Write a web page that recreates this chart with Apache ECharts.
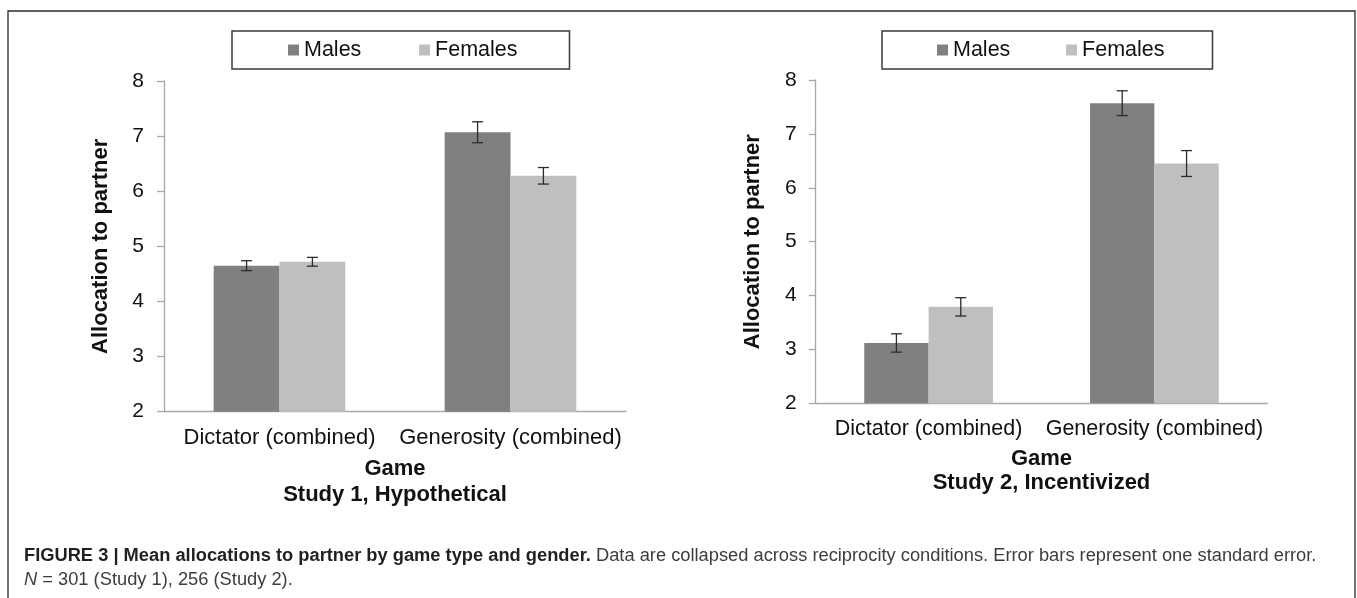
<!DOCTYPE html>
<html>
<head>
<meta charset="utf-8">
<script src="https://cdn.jsdelivr.net/npm/echarts@6/dist/echarts.min.js"></script>
<style>
html,body{margin:0;padding:0;background:#fff;}
#chart{width:1357px;height:598px;}
</style>
</head>
<body>
<div id="chart"></div>
<script>
// ---- data ----
const categories = ['Dictator (combined)', 'Generosity (combined)'];
const seriesNames = ['Males', 'Females'];
const study1Males = [4.65, 7.07];
const study1Females = [4.72, 6.28];
const study1MalesSE = [0.09, 0.19];
const study1FemalesSE = [0.08, 0.15];
const study2Males = [3.12, 7.57];
const study2Females = [3.79, 6.45];
const study2MalesSE = [0.17, 0.23];
const study2FemalesSE = [0.17, 0.24];
const yMin = 2, yMax = 8, yInterval = 1;
const xAxisTitle = 'Game';
const yAxisTitle = 'Allocation to partner';
const panelTitles = ['Study 1, Hypothetical', 'Study 2, Incentivized'];

// ---- styles ----
const FONT = '"Liberation Sans", Arial, Helvetica, sans-serif';
const MALE = '#808080', FEMALE = '#bfbfbf';
const AXIS = '#a8a8a8';
const BW = 0.285;
const CAP = 18.3;

const chart = echarts.init(document.getElementById('chart'), null, {renderer: 'canvas'});

function errRender(sign) {
  return function (params, api) {
    const i = api.value(0), v = api.value(1), se = api.value(2);
    const c = api.coord([i, v]);
    const band = api.size([1, 0])[0];
    const x = c[0] + sign * band * BW / 2;
    const top = api.coord([i, v + se])[1];
    const bot = api.coord([i, v - se])[1];
    const cap = 5.5;
    const st = {stroke: '#2b2b2b', lineWidth: 1.3};
    return {type: 'group', children: [
      {type: 'line', shape: {x1: x, y1: top, x2: x, y2: bot}, style: st},
      {type: 'line', shape: {x1: x - cap, y1: top, x2: x + cap, y2: top}, style: st},
      {type: 'line', shape: {x1: x - cap, y1: bot, x2: x + cap, y2: bot}, style: st}
    ]};
  };
}
function errData(vals, se) { return vals.map((v, i) => [i, v, se[i]]); }

function xAxisCfg(gi, fs) {
  return {
    type: 'category', gridIndex: gi, data: categories,
    axisLine: {lineStyle: {color: AXIS, width: 1.3}},
    axisTick: {length: 7, lineStyle: {color: AXIS, width: 1.3}},
    axisLabel: {interval: 0, hideOverlap: false, fontFamily: FONT, fontSize: fs, color: '#111', margin: 15, lineHeight: 22}
  };
}
function yAxisCfg(gi, margin) {
  return {
    type: 'value', gridIndex: gi, min: yMin, max: yMax, interval: yInterval,
    name: yAxisTitle, nameLocation: 'middle', nameGap: 52,
    nameTextStyle: {fontFamily: FONT, fontSize: 22, fontWeight: 'bold', color: '#111'},
    axisLine: {show: true, lineStyle: {color: AXIS, width: 1.3}},
    axisTick: {show: true, length: 7, lineStyle: {color: AXIS, width: 1.3}},
    splitLine: {show: false},
    axisLabel: {fontFamily: FONT, fontSize: 21, color: '#111', margin: margin}
  };
}
function legendCfg(left, pad, gap) {
  return {
    left: left, top: 31, data: seriesNames, icon: 'rect', itemWidth: 11, itemHeight: 11,
    itemGap: gap, padding: pad, borderColor: '#3a3a3a', borderWidth: 1.5, borderRadius: 0,
    textStyle: {fontFamily: FONT, fontSize: 21.5, color: '#111', lineHeight: 22}
  };
}
function barSeries(name, gi, data, color) {
  return {type: 'bar', name: name, xAxisIndex: gi, yAxisIndex: gi, data: data,
    barWidth: (BW * 100) + '%', barGap: '0%', itemStyle: {color: color}, silent: true};
}
function errSeries(gi, vals, se, sign) {
  return {type: 'custom', xAxisIndex: gi, yAxisIndex: gi, data: errData(vals, se),
    encode: {x: 0, y: 1}, renderItem: errRender(sign), z: 5, silent: true};
}

const option = {
  animation: false,
  backgroundColor: '#fff',
  grid: [
    {left: 164, top: 81, width: 462, height: 330.7},
    {left: 815.7, top: 80, width: 451.6, height: 323.3}
  ],
  legend: [
    legendCfg(232, [8, 52, 8, 56], 57.7),
    legendCfg(882, [8, 48, 8, 55], 55.7)
  ],
  xAxis: [xAxisCfg(0, 22), xAxisCfg(1, 21.5)],
  yAxis: [yAxisCfg(0, 20), yAxisCfg(1, 19)],
  series: [
    barSeries(seriesNames[0], 0, study1Males, MALE),
    barSeries(seriesNames[1], 0, study1Females, FEMALE),
    barSeries(seriesNames[0], 1, study2Males, MALE),
    barSeries(seriesNames[1], 1, study2Females, FEMALE),
    errSeries(0, study1Males, study1MalesSE, -1),
    errSeries(0, study1Females, study1FemalesSE, 1),
    errSeries(1, study2Males, study2MalesSE, -1),
    errSeries(1, study2Females, study2FemalesSE, 1)
  ],
  graphic: [
    {type: 'rect', shape: {x: 8, y: 11, width: 1347, height: 620}, style: {fill: 'none', stroke: '#2a2a2a', lineWidth: 1.3}, z: -1, silent: true},
    {type: 'text', x: 395, y: 469, style: {text: xAxisTitle, font: 'bold 22px ' + FONT, fill: '#111', align: 'center', verticalAlign: 'middle'}},
    {type: 'text', x: 395, y: 494.5, style: {text: panelTitles[0], font: 'bold 22px ' + FONT, fill: '#111', align: 'center', verticalAlign: 'middle'}},
    {type: 'text', x: 1041.5, y: 459, style: {text: xAxisTitle, font: 'bold 22px ' + FONT, fill: '#111', align: 'center', verticalAlign: 'middle'}},
    {type: 'text', x: 1041.5, y: 483, style: {text: panelTitles[1], font: 'bold 22px ' + FONT, fill: '#111', align: 'center', verticalAlign: 'middle'}},
    {type: 'text', x: 24, y: 556, style: {
      text: '{b|FIGURE 3 | Mean allocations to partner by game type and gender.}{r| Data are collapsed across reciprocity conditions. Error bars represent one standard error.}',
      align: 'left', verticalAlign: 'middle',
      rich: {
        b: {fontFamily: FONT, fontSize: CAP, fontWeight: 'bold', fill: '#231f20'},
        r: {fontFamily: FONT, fontSize: CAP, fill: '#3d3d3d'}
      }}},
    {type: 'text', x: 24, y: 580, style: {
      text: '{i|N}{r| = 301 (Study 1), 256 (Study 2).}',
      align: 'left', verticalAlign: 'middle',
      rich: {
        i: {fontFamily: FONT, fontSize: CAP, fontStyle: 'italic', fill: '#3d3d3d'},
        r: {fontFamily: FONT, fontSize: CAP, fill: '#3d3d3d'}
      }}}
  ]
};
chart.setOption(option);
</script>
</body>
</html>
